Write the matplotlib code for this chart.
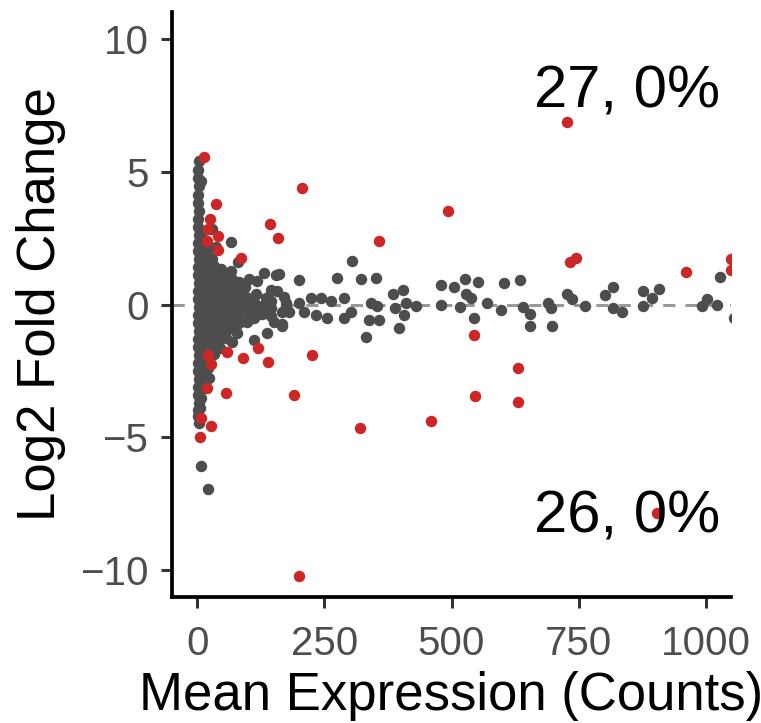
import matplotlib
matplotlib.use("Agg")
import matplotlib.pyplot as plt

# grey points: non-significant genes (mean counts, log2 fold change)
column = [(3, 5.40), (7, 4.64), (2, 5.05), (1, 4.75), (3, 4.45), (2, 4.10), (1, 3.80),
          (3, 3.50), (2, 3.20), (1, 2.90), (3, 2.60), (2, 2.30), (1, 2.00), (3, 1.70),
          (2, 1.40), (1, 1.10), (3, 0.80), (2, 0.50), (1, 0.20), (3, -0.10), (2, -0.40),
          (1, -0.70), (3, -1.00), (2, -1.30), (1, -1.60), (3, -1.90), (2, -2.20),
          (1, -2.50), (3, -2.80), (2, -3.10), (1, -3.40), (3, -3.70), (2, -3.95),
          (1, -4.20), (3, -4.45), (7, -6.07), (21, -6.93)]
column2 = [(9, 2.50), (11, 2.20), (10, 1.90), (12, 1.60), (9, 1.30), (11, 1.00),
           (10, 0.70), (12, 0.40), (9, 0.10), (11, -0.20), (10, -0.50), (12, -0.80),
           (9, -1.10), (11, -1.40), (10, -1.70), (12, -2.00), (9, -2.30), (11, -2.60),
           (13, -2.90), (13, -3.15), (8, -3.50), (6, -3.90)]
column3 = [(20, 2.10), (22, 1.80), (19, 1.50), (21, 1.20), (20, 0.90), (22, 0.60),
           (19, 0.30), (21, 0.00), (20, -0.30), (22, -0.60), (19, -0.90), (21, -1.20),
           (20, -1.50), (22, -1.80), (19, -2.10), (21, -2.40), (23, -2.77)]
fan = [(29, 2.85), (36, 2.17), (29, 1.72), (32, 1.45), (32, 1.15), (32, 0.85),
       (32, 0.55), (32, 0.25), (32, -0.05), (32, -0.35), (32, -0.65), (32, -0.95),
       (32, -1.25), (32, -1.55), (32, -1.85),
       (46, 1.35), (44, 1.05), (44, 0.75), (44, 0.45), (44, 0.15), (44, -0.15),
       (44, -0.45), (44, -0.75), (44, -1.05), (42, -1.35), (44, -1.65),
       (56, 1.15), (56, 0.85), (56, 0.55), (56, 0.25), (56, -0.05), (56, -0.35),
       (56, -0.65), (58, -0.97), (56, -1.25),
       (66, 2.36), (66, 1.27), (68, 0.95), (68, 0.65), (68, 0.35), (68, 0.05),
       (68, -0.25), (68, -0.55), (68, -0.85), (78, -1.09), (68, -1.42),
       (80, 1.60), (82, 0.85), (82, 0.55), (82, 0.25), (82, -0.05), (82, -0.35),
       (82, -0.70),
       (102, 0.97), (94, 0.64), (96, 0.30), (96, 0.00), (96, -0.30), (98, -0.67),
       (117, 0.90), (115, 0.41), (112, 0.10), (112, -0.20), (112, -0.50), (111, -1.35),
       (131, 1.20), (135, 0.26), (128, -0.05), (128, -0.35), (137, -1.09),
       (145, 0.55), (145, 0.15), (145, -0.15), (145, -0.45),
       (155, 1.12), (157, 0.49), (151, -0.67),
       (170, 0.30), (175, 0.04), (167, -0.30), (167, -0.75)]
spread = [(200, 0.94), (224, 0.26), (175, -0.04), (200, 0.07), (244, 0.26), (263, 0.15),
          (289, 0.26), (180, -0.30), (210, -0.30), (234, -0.41), (255, -0.52),
          (289, -0.49), (303, -0.30), (167, -0.79), (275, 1.01), (305, 1.65),
          (322, 0.97), (352, 1.01), (161, 1.16), (342, 0.07), (354, -0.04),
          (338, -0.60), (358, -0.60), (332, -1.24), (384, 0.41), (405, 0.56),
          (388, -0.15), (411, 0.07), (431, -0.04), (407, -0.41), (397, -0.90),
          (480, 0.75), (504, 0.67), (526, 0.97), (553, 0.86), (528, 0.41), (539, 0.26),
          (480, 0.00), (516, -0.11), (569, 0.07), (545, -0.52), (597, -0.22),
          (603, 0.79), (634, 0.94), (640, -0.11), (654, -0.37), (654, -0.79),
          (690, 0.04), (695, -0.15), (697, -0.82), (727, 0.41), (737, 0.22),
          (762, -0.04), (802, 0.34), (818, 0.64), (818, -0.15), (835, -0.30),
          (877, 0.49), (894, 0.26), (908, 0.60), (877, -0.04), (993, -0.07),
          (1003, 0.22), (1022, 0.00), (1029, 1.05), (1056, -0.49)]

# red points: significant genes
sig_up = [(13, 5.54), (206, 4.38), (36, 3.78), (494, 3.52), (143, 3.03), (24, 3.20),
          (159, 2.51), (358, 2.40), (21, 2.85), (40, 2.58), (19, 2.40), (40, 2.06),
          (86, 1.76), (733, 1.61), (745, 1.76), (962, 1.24), (1050, 1.72),
          (1050, 1.31), (727, 6.85)]
sig_down = [(21, -1.91), (27, -2.25), (58, -1.80), (90, -2.02), (119, -1.65),
            (139, -2.17), (19, -3.15), (56, -3.33), (190, -3.41), (7, -4.27),
            (27, -4.57), (5, -4.98), (904, -7.83), (200, -10.22), (226, -1.91),
            (320, -4.64), (459, -4.38), (547, -3.45), (545, -1.16), (631, -2.40),
            (631, -3.67)]

n_up, n_down = 27, 26
x_ticks = [0, 250, 500, 750, 1000]
y_ticks = [-10, -5, 0, 5, 10]

GREY = "#4D4D4D"
RED = "#CD2626"

plt.rcParams["font.family"] = ["Liberation Sans", "DejaVu Sans"]

fig = plt.figure(figsize=(7.61, 7.23), dpi=100)
ax = fig.add_axes([172 / 761, 1 - 597 / 723, (731 - 172) / 761, (597 - 12) / 723])

grey = column + column2 + column3 + fan + spread
ax.scatter([p[0] for p in grey], [p[1] for p in grey], s=68, color=GREY,
           linewidths=0, zorder=2)
red = sig_up + sig_down
ax.scatter([p[0] for p in red], [p[1] for p in red], s=68, color=RED,
           linewidths=0, zorder=3)

ax.axhline(0, color="#999999", lw=2.2, dashes=(4, 3.3), zorder=1)

ax.text(1029, 8, f"{n_up}, 0%", ha="right", va="center", fontsize=43, zorder=4)
ax.text(1029, -8, f"{n_down}, 0%", ha="right", va="center", fontsize=43, zorder=4)

ax.set_xlim(-50, 1050)
ax.set_ylim(-11, 11)
ax.set_xticks(x_ticks)
ax.set_yticks(y_ticks)
ax.set_yticklabels(["\u2212" + str(-v) if v < 0 else str(v) for v in y_ticks])

for side in ["top", "right"]:
    ax.spines[side].set_visible(False)
for side in ["left", "bottom"]:
    ax.spines[side].set_linewidth(2.7)
    ax.spines[side].set_color("black")

ax.tick_params(axis="both", length=8, width=2.2, color="#333333",
               labelsize=29, labelcolor=GREY)
ax.tick_params(axis="y", pad=9)
ax.tick_params(axis="x", pad=12)

ax.set_xlabel("Mean Expression (Counts)", fontsize=38, labelpad=6)
ax.set_ylabel("Log2 Fold Change", fontsize=38, labelpad=10)

fig.savefig("out.png", dpi=100)
